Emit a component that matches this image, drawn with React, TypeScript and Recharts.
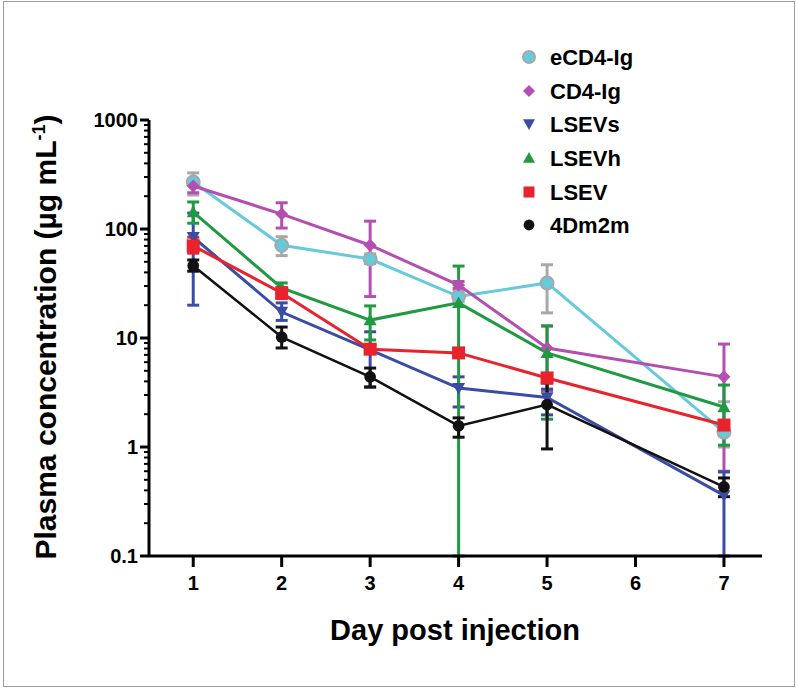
import React from 'react';
import { LineChart, Line, XAxis, YAxis, ErrorBar } from 'recharts';

// ---------- data ----------
const days = [1, 2, 3, 4, 5, 7];
const xTicks = [1, 2, 3, 4, 5, 6, 7];
const yMajorTicks = [0.1, 1, 10, 100, 1000];
const yMinorTicks = [
  0.2, 0.3, 0.4, 0.5, 0.6, 0.7, 0.8, 0.9,
  2, 3, 4, 5, 6, 7, 8, 9,
  20, 30, 40, 50, 60, 70, 80, 90,
  200, 300, 400, 500, 600, 700, 800, 900,
];

const eCD4Ig = [270, 71, 53, 24, 32, 1.37];
const eCD4IgLo = [205, 57, 48, 21.5, 17, 1.0];
const eCD4IgHi = [327, 85, 59, 27, 47, 2.6];

const CD4Ig = [248, 137, 71, 30.6, 8.1, 4.4];
const CD4IgLo = [215, 102, 24, 28.5, 3.3, 0.6];
const CD4IgHi = [280, 174, 118, 33, 12.9, 8.8];

const LSEVs = [84, 17.3, 7.8, 3.47, 2.85, 0.36];
const LSEVsLo = [20, 14.5, 3.55, 2.33, 1.97, 0.1];
const LSEVsHi = [140, 21, 11.4, 4.4, 3.4, 0.59];

const LSEVh = [143, 28.8, 14.6, 21, 7.3, 2.33];
const LSEVhLo = [113, 26, 9.6, 0.1, 1.8, 1.04];
const LSEVhHi = [177, 32, 19.7, 45.7, 12.9, 3.7];

const LSEV = [70, 25.9, 7.9, 7.3, 4.3, 1.59];
const LSEVLo = [60, 23, 7.3, 6.8, 3.85, 1.45];
const LSEVHi = [84, 29, 8.5, 7.9, 4.7, 1.75];

const Dm2m = [46, 10.2, 4.4, 1.56, 2.45, 0.43];
const Dm2mLo = [41, 8.1, 3.55, 1.23, 0.96, 0.35];
const Dm2mHi = [52, 12.6, 5.3, 1.85, 3.95, 0.52];

type Shape = 'circleRing' | 'diamond' | 'down' | 'up' | 'square' | 'circle';

const series: {
  key: string; name: string; values: number[]; lo: number[]; hi: number[];
  color: string; errColor: string; shape: Shape; width: number;
}[] = [
  { key: 'eCD4', name: 'eCD4-Ig', values: eCD4Ig, lo: eCD4IgLo, hi: eCD4IgHi, color: '#66CADB', errColor: '#A8A8A8', shape: 'circleRing', width: 3 },
  { key: 'CD4', name: 'CD4-Ig', values: CD4Ig, lo: CD4IgLo, hi: CD4IgHi, color: '#B34FB0', errColor: '#B34FB0', shape: 'diamond', width: 3 },
  { key: 'LSEVs', name: 'LSEVs', values: LSEVs, lo: LSEVsLo, hi: LSEVsHi, color: '#3B4CA5', errColor: '#3B4CA5', shape: 'down', width: 3 },
  { key: 'LSEVh', name: 'LSEVh', values: LSEVh, lo: LSEVhLo, hi: LSEVhHi, color: '#1F9A40', errColor: '#1F9A40', shape: 'up', width: 3 },
  { key: 'LSEV', name: 'LSEV', values: LSEV, lo: LSEVLo, hi: LSEVHi, color: '#E8232B', errColor: '#E8232B', shape: 'square', width: 3 },
  { key: 'Dm2m', name: '4Dm2m', values: Dm2m, lo: Dm2mLo, hi: Dm2mHi, color: '#111111', errColor: '#111111', shape: 'circle', width: 2.5 },
];

const data = days.map((d, i) => {
  const row: Record<string, any> = { day: d };
  series.forEach((s) => {
    row[s.key] = s.values[i];
    row[s.key + 'Err'] = [s.values[i] - s.lo[i], s.hi[i] - s.values[i]];
  });
  return row;
});

const FONT = '"Liberation Sans", Arial, Helvetica, sans-serif';

// ---------- markers ----------
function Marker({ shape, cx, cy, color, s }: { shape: Shape; cx: number; cy: number; color: string; s: number }) {
  switch (shape) {
    case 'circleRing':
      return <circle cx={cx} cy={cy} r={s} fill={color} stroke="#A8A8A8" strokeWidth={2} />;
    case 'circle':
      return <circle cx={cx} cy={cy} r={s * 0.9} fill={color} />;
    case 'diamond':
      return <polygon points={`${cx},${cy - s} ${cx + s},${cy} ${cx},${cy + s} ${cx - s},${cy}`} fill={color} />;
    case 'down':
      return <polygon points={`${cx - s},${cy - s * 0.8} ${cx + s},${cy - s * 0.8} ${cx},${cy + s}`} fill={color} />;
    case 'up':
      return <polygon points={`${cx - s},${cy + s * 0.8} ${cx + s},${cy + s * 0.8} ${cx},${cy - s}`} fill={color} />;
    case 'square':
      return <rect x={cx - s} y={cy - s} width={2 * s} height={2 * s} fill={color} />;
  }
  return null;
}

// ---------- ticks ----------
const YTick = (props: any) => {
  const { x, y, payload } = props;
  const v = payload.value;
  const major = yMajorTicks.includes(v);
  return (
    <g>
      <line x1={x - (major ? 9 : 5)} x2={x} y1={y} y2={y} stroke="#000" strokeWidth={major ? 3 : 2} />
      {major && (
        <text x={x - 11} y={y} dy="0.36em" textAnchor="end" fontFamily={FONT} fontWeight="bold" fontSize={20} fill="#000">
          {String(v)}
        </text>
      )}
    </g>
  );
};

const XTick = (props: any) => {
  const { x, y, payload } = props;
  return (
    <g>
      <line x1={x} x2={x} y1={y} y2={y + 11} stroke="#000" strokeWidth={3} />
      <text x={x} y={y + 34} textAnchor="middle" fontFamily={FONT} fontWeight="bold" fontSize={20} fill="#000">
        {String(payload.value)}
      </text>
    </g>
  );
};

// ---------- legend & titles ----------
const legendRows = [57, 91, 124, 158, 192, 225];

function LegendBox() {
  return (
    <svg width={798} height={689} style={{ position: 'absolute', left: 0, top: 0, pointerEvents: 'none' }}>
      {series.map((s, i) => (
        <g key={s.key}>
          <Marker shape={s.shape} cx={529} cy={legendRows[i]} color={s.color} s={s.shape === 'square' ? 5.5 : 6} />
          <text x={550} y={legendRows[i] + 8} fontFamily={FONT} fontWeight="bold" fontSize={22} fill="#000">
            {s.name}
          </text>
        </g>
      ))}
      <text transform="translate(56,337) rotate(-90)" textAnchor="middle" fontFamily={FONT} fontWeight="bold" fontSize={30} fill="#000">
        Plasma concentration (µg mL
        <tspan dy={-11} fontSize={18}>-1</tspan>
        <tspan dy={11}>)</tspan>
      </text>
      <text x={455} y={640} textAnchor="middle" fontFamily={FONT} fontWeight="bold" fontSize={29} fill="#000">
        Day post injection
      </text>
    </svg>
  );
}

export default function App() {
  return (
    <div style={{ position: 'absolute', left: 0, top: 0, width: 798, height: 689, background: '#fff' }}>
      <div style={{ position: 'absolute', left: 3, top: 1, width: 792, height: 686, border: '1.5px solid #9C9C9C', boxSizing: 'border-box' }} />
      <div style={{ position: 'absolute', left: 0, top: 0 }}>
        <LineChart width={798} height={689} data={data} margin={{ top: 120, right: 36, bottom: 73, left: 89 }}>
          <XAxis
            dataKey="day"
            type="number"
            domain={[0.5, 7.43]}
            ticks={xTicks}
            interval={0}
            allowDataOverflow
            tickSize={0}
            tickMargin={0}
            tickLine={false}
            tick={<XTick />}
            height={60}
            axisLine={{ stroke: '#000', strokeWidth: 3 }}
          />
          <YAxis
            type="number"
            scale="log"
            domain={[0.1, 1000]}
            allowDataOverflow
            ticks={[...yMajorTicks, ...yMinorTicks].sort((a, b) => a - b)}
            interval={0}
            tickSize={0}
            tickMargin={0}
            tickLine={false}
            tick={<YTick />}
            width={60}
            axisLine={{ stroke: '#000', strokeWidth: 3 }}
          />
          {series.map((s) => (
            <Line
              key={s.key}
              dataKey={s.key}
              name={s.name}
              stroke={s.color}
              strokeWidth={s.width}
              isAnimationActive={false}
              activeDot={false}
              dot={(p: any) => (
                <Marker key={`${s.key}-${p.index}`} shape={s.shape} cx={p.cx} cy={p.cy} color={s.color} s={6.5} />
              )}
            >
              <ErrorBar dataKey={s.key + 'Err'} direction="y" width={6} strokeWidth={3} stroke={s.errColor} />
            </Line>
          ))}
        </LineChart>
      </div>
      <LegendBox />
    </div>
  );
}
